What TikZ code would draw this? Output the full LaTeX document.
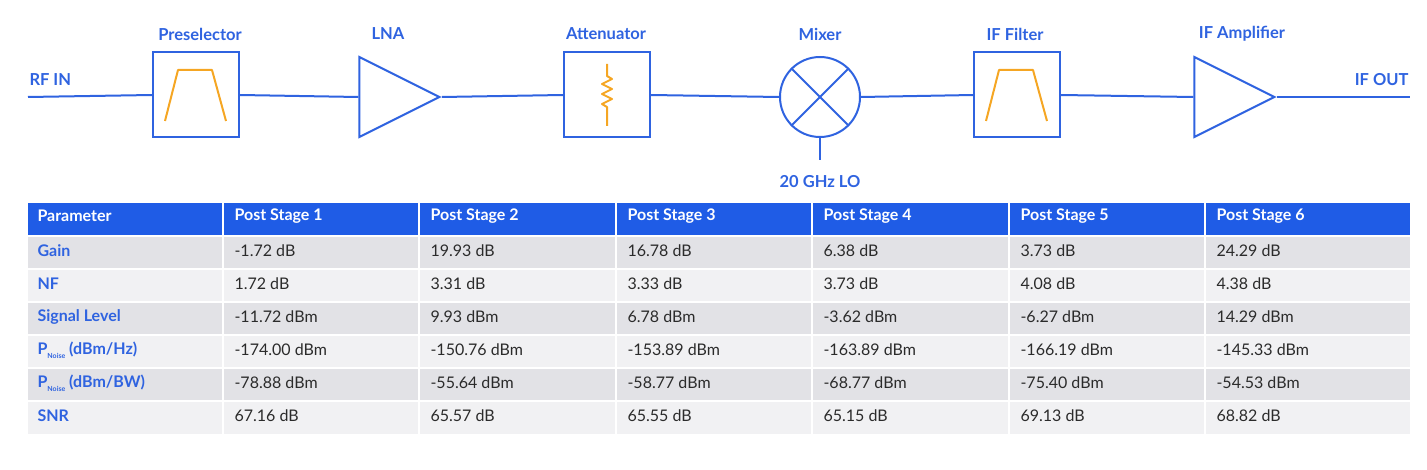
\documentclass[tikz,border=0pt]{standalone}
\usepackage{fontspec}
\setmainfont{Lato}
\usetikzlibrary{shapes.geometric}
\definecolor{lineblue}{HTML}{2F63E0}
\definecolor{headblue}{HTML}{1F5CE6}
\definecolor{filterorange}{HTML}{F5A623}
\definecolor{rowdark}{HTML}{E2E2E6}
\definecolor{rowlight}{HTML}{F1F1F3}
\definecolor{celltext}{HTML}{2B2B2B}
\newcommand{\pnoise}{P\raisebox{-0.45ex}{\fontsize{7}{8}\selectfont Noise}}

\begin{document}
\begin{tikzpicture}[x=1pt,y=-1pt,
  wire/.style={lineblue,line width=2pt},
  blockbox/.style={draw=lineblue,line width=2pt,minimum width=86pt,minimum height=85pt,inner sep=0pt},
  amp/.style={isosceles triangle,isosceles triangle stretches,draw=lineblue,line width=2pt,
    minimum width=80pt,minimum height=80pt,inner sep=0pt,fill=white},
  blocklabel/.style={text=lineblue,font=\fontsize{16.5}{18}\selectfont\bfseries},
  headtext/.style={text=white,anchor=west,font=\fontsize{16}{18}\selectfont\bfseries},
  parmtext/.style={text=lineblue,anchor=west,font=\fontsize{16}{18}\selectfont\bfseries},
  valtext/.style={text=celltext,anchor=west,font=\fontsize{16}{18}\selectfont}]
  \useasboundingbox (0,0) rectangle (1427,470);

  % signal chain
  \coordinate (rfin) at (28,97);
  \coordinate (ifout) at (1410,97);
  \node[blockbox] (presel) at (196,95) {};
  \node[amp] (lna) at (384,97) {};
  \node[blockbox] (atten) at (607,95) {};
  \node[circle,draw=lineblue,line width=2pt,minimum size=80pt,inner sep=0pt] (mixer) at (820,97) {};
  \node[blockbox] (iffilt) at (1017,95) {};
  \node[amp] (ifamp) at (1219,97) {};
  \coordinate (lo) at (820,160);

  \draw[wire] (rfin) -- (presel.west);
  \draw[wire] (presel.east) -- (lna.west);
  \draw[wire] (lna.east) -- (atten.west);
  \draw[wire] (atten.east) -- (mixer.west);
  \draw[wire] (mixer.east) -- (iffilt.west);
  \draw[wire] (iffilt.east) -- (ifamp.west);
  \draw[wire] (ifamp.east) -- (ifout);
  \draw[wire] (mixer.south) -- (lo);
  \draw[wire] (mixer.45) -- (mixer.225) (mixer.135) -- (mixer.315);

  % filter and resistor marks
  \foreach \f in {presel,iffilt}
    \draw[filterorange,line width=2pt,line join=round]
      ([shift={(-31,26)}]\f.center) -- ([shift={(-18,-25)}]\f.center)
      -- ([shift={(16,-25)}]\f.center) -- ([shift={(30,26)}]\f.center);
  \draw[filterorange,line width=2pt,line join=round]
    ([shift={(0,-31)}]atten.center) -- ([shift={(0,-19)}]atten.center)
    -- ++(5,3) -- ++(-10,5) -- ++(10,5) -- ++(-10,5) -- ++(10,5) -- ++(-10,5) -- ++(5,3)
    -- ([shift={(0,31)}]atten.center);

  % labels
  \node[blocklabel,anchor=west] (rflabel) at (26,80) {RF IN};
  \node[blocklabel,anchor=east] (outlabel) at (1412,80) {IF OUT};
  \node[blocklabel] (presellabel) at (200,34) {Preselector};
  \node[blocklabel] (lnalabel) at (388,34) {LNA};
  \node[blocklabel] (attenlabel) at (606,34) {Attenuator};
  \node[blocklabel] (mixerlabel) at (820,34) {Mixer};
  \node[blocklabel] (ifflabel) at (1015,34) {IF Filter};
  \node[blocklabel] (ifalabel) at (1242,34) {IF Amplifier};
  \node[blocklabel] (lolabel) at (820,182) {20 GHz LO};

  % table
  \fill[headblue] (28,203) rectangle (1410,236);
  \foreach \r/\c in {1/rowdark,2/rowlight,3/rowdark,4/rowlight,5/rowdark,6/rowlight}
    \fill[\c] (28,203+33*\r) rectangle (1410,236+33*\r);
  \foreach \r in {1,...,6}
    \draw[white,line width=1.5pt] (28,203+33*\r) -- (1410,203+33*\r);
  \foreach \x in {223,419,616,812,1009,1205}
    \draw[white,line width=1.5pt] (\x,203) -- (\x,435);

  \node[headtext] (h0) at (34,216) {Parameter};
  \foreach \x [count=\i] in {223,419,616,812,1009,1205}
    \node[headtext] (h\i) at (\x+8,216) {Post Stage \i};

  \foreach \p [count=\r] in {Gain,NF,Signal Level,\pnoise\ (dBm/Hz),\pnoise\ (dBm/BW),SNR}
    \node[parmtext] (p\r) at (34,218+33*\r) {\p};

  \foreach \a/\b/\c/\d/\e/\f [count=\r] in {
      -1.72 dB/19.93 dB/16.78 dB/6.38 dB/3.73 dB/24.29 dB,
      1.72 dB/3.31 dB/3.33 dB/3.73 dB/4.08 dB/4.38 dB,
      -11.72 dBm/9.93 dBm/6.78 dBm/-3.62 dBm/-6.27 dBm/14.29 dBm,
      -174.00 dBm/-150.76 dBm/-153.89 dBm/-163.89 dBm/-166.19 dBm/-145.33 dBm,
      -78.88 dBm/-55.64 dBm/-58.77 dBm/-68.77 dBm/-75.40 dBm/-54.53 dBm,
      67.16 dB/65.57 dB/65.55 dB/65.15 dB/69.13 dB/68.82 dB} {
    \node[valtext] (v\r a) at (231,218+33*\r) {\a};
    \node[valtext] (v\r b) at (427,218+33*\r) {\b};
    \node[valtext] (v\r c) at (624,218+33*\r) {\c};
    \node[valtext] (v\r d) at (820,218+33*\r) {\d};
    \node[valtext] (v\r e) at (1017,218+33*\r) {\e};
    \node[valtext] (v\r f) at (1213,218+33*\r) {\f};
  }
\end{tikzpicture}
\end{document}
